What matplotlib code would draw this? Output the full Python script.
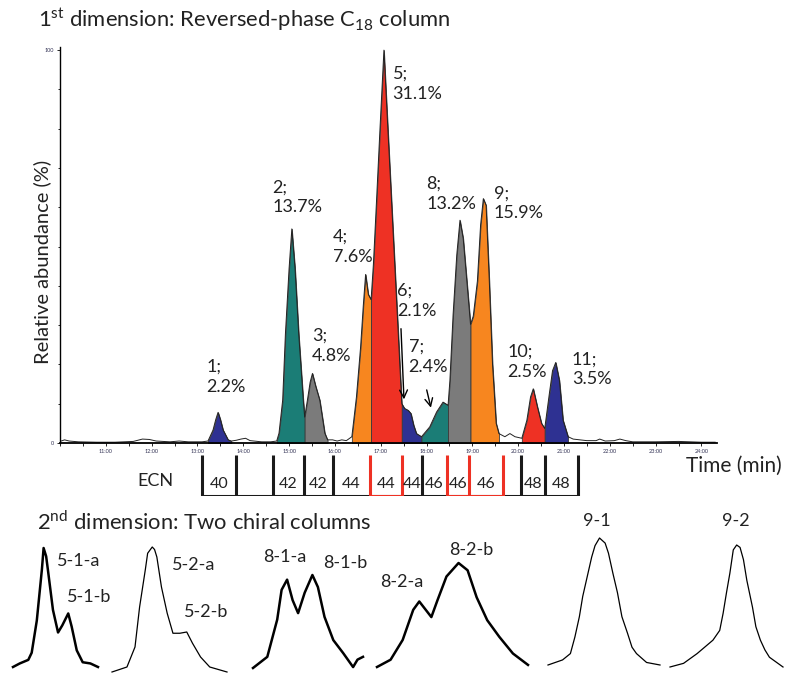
import matplotlib
matplotlib.use("Agg")
import matplotlib.pyplot as plt
import numpy as np

plt.rcParams['font.family'] = ['Lato', 'DejaVu Sans']
plt.rcParams['mathtext.fontset'] = 'custom'
plt.rcParams['mathtext.rm'] = 'Lato'

# 1st dimension trace: time (min) vs relative abundance (%)
time = [10.00, 10.10, 10.20, 10.40, 10.80, 11.20, 11.60, 11.80, 11.95, 12.10, 12.40, 12.60, 12.80,
        13.10, 13.23, 13.34, 13.40, 13.45, 13.50, 13.56, 13.67, 13.74, 13.85, 13.95, 14.05, 14.15,
        14.40, 14.60, 14.73, 14.78, 14.86, 14.92, 15.00, 15.06, 15.13, 15.21, 15.31, 15.34, 15.40,
        15.46, 15.51, 15.58, 15.67, 15.78, 15.84, 15.95, 16.05, 16.15, 16.25, 16.37, 16.47, 16.56,
        16.62, 16.67, 16.73, 16.79, 16.84, 16.91, 16.98, 17.07, 17.16, 17.27, 17.38, 17.46, 17.52,
        17.60, 17.66, 17.72, 17.78, 17.89, 18.07, 18.22, 18.36, 18.47, 18.51, 18.58, 18.66, 18.73,
        18.80, 18.88, 18.96, 19.02, 19.11, 19.18, 19.24, 19.30, 19.37, 19.44, 19.52, 19.58, 19.71,
        19.82, 19.93, 20.08, 20.19, 20.27, 20.33, 20.42, 20.51, 20.58, 20.68, 20.75, 20.82, 20.90,
        20.98, 21.09, 21.20, 21.50, 21.70, 21.78, 21.90, 22.10, 22.22, 22.35, 22.50, 23.00, 23.50,
        24.00, 24.30]
abundance = [0.4, 0.8, 0.5, 0.3, 0.2, 0.2, 0.4, 1.0, 0.9, 0.5, 0.3, 0.5, 0.3,
             0.3, 0.5, 3.3, 6.0, 7.8, 6.0, 3.3, 0.8, 0.5, 0.7, 1.0, 1.2, 0.6,
             0.3, 0.3, 0.5, 2.5, 10.9, 27.8, 44.4, 54.5, 44.4, 27.8, 10.9, 6.6, 10.9,
             15.5, 17.7, 14.5, 10.9, 2.5, 0.8, 0.8, 0.5, 0.8, 0.6, 1.6, 11.7, 24.3,
             35.0, 42.9, 37.8, 36.5, 45.4, 62.0, 79.0, 100.0, 79.0, 53.8, 28.5, 10.0, 8.8,
             8.3, 7.5, 4.5, 2.4, 1.6, 4.1, 7.9, 10.4, 9.6, 15.9, 32.7, 47.9, 56.7,
             52.1, 41.2, 30.2, 32.3, 41.2, 55.5, 62.2, 60.5, 41.2, 20.1, 5.0, 2.4, 1.6,
             2.4, 1.6, 1.2, 5.8, 11.7, 13.8, 9.2, 5.0, 3.7, 12.5, 18.4, 20.5, 15.9,
             5.8, 1.6, 1.0, 0.6, 0.6, 1.0, 0.5, 0.6, 1.0, 0.6, 0.3, 0.3, 0.4,
             0.2, 0.2]

# integrated peak regions (start, end, colour)
blue, teal, gray, orange, red = '#2E3192', '#1B7D76', '#7B7B7B', '#F7861F', '#EE3124'
seg_start = [13.23, 14.73, 15.34, 16.37, 16.79, 17.46, 17.89, 18.47, 18.96, 20.08, 20.58]
seg_end = [13.74, 15.34, 15.84, 16.79, 17.46, 17.89, 18.47, 18.96, 19.58, 20.58, 21.09]
seg_color = [blue, teal, gray, orange, red, blue, teal, gray, orange, red, blue]

peak_labels = ['1;\n2.2%', '2;\n13.7%', '3;\n4.8%', '4;\n7.6%', '5;\n31.1%', '6;\n2.1%',
               '7;\n2.4%', '8;\n13.2%', '9;\n15.9%', '10;\n2.5%', '11;\n3.5%']
label_t = [13.20, 14.63, 15.50, 15.96, 17.26, 17.35, 17.61, 17.99, 19.47, 19.76, 21.17]
label_a = [16.8, 62.5, 24.7, 49.9, 91.4, 36.2, 22.0, 63.4, 61.0, 20.6, 18.7]

# ECN cells
ecn_edges = [13.10, 13.84, 14.65, 15.32, 15.96, 16.76, 17.46, 17.90, 18.45, 18.93, 19.66, 20.07, 20.58, 21.31]
ecn_labels = ['40', '', '42', '42', '44', '44', '44', '46', '46', '46', '', '48', '48']
ecn_red = [False, False, False, False, False, True, False, False, True, True, False, False, False]

t = np.array(time)
a = np.array(abundance)

fig = plt.figure(figsize=(7.86, 6.73), dpi=100)
W, H = 786, 673
ax = fig.add_axes([60 / W, 1 - 443 / H, 657 / W, 396 / H])

for lo, hi, c in zip(seg_start, seg_end, seg_color):
    m = (t >= lo - 1e-6) & (t <= hi + 1e-6)
    ax.fill_between(t[m], 0, a[m], facecolor=c, edgecolor='#3a3a3a', lw=0.6)
ax.plot(t, a, color='#222222', lw=0.7)

for s, x, y in zip(peak_labels, label_t, label_a):
    ax.text(x, y, s, fontsize=13, ha='left', va='center', linespacing=1.3, color='#222222')

ax.annotate('', xy=(17.51, 10.4), xytext=(17.44, 29.8),
            arrowprops=dict(arrowstyle='->', lw=1.0, color='k', mutation_scale=14))
ax.annotate('', xy=(18.11, 8.3), xytext=(17.99, 14.2),
            arrowprops=dict(arrowstyle='->', lw=1.0, color='k', mutation_scale=14))

ax.set_xlim(10.0, 24.34)
ax.set_ylim(0, 100.8)
ax.spines['top'].set_visible(False)
ax.spines['right'].set_visible(False)
ax.spines['left'].set_linewidth(1.0)
ax.spines['bottom'].set_linewidth(1.3)
ax.set_xticks(np.arange(11, 25, 1))
ax.set_xticklabels(['%d:00' % h for h in range(11, 25)])
ax.set_xticks(np.arange(10, 24.5, 0.5), minor=True)
ax.set_yticks([0, 100])
ax.set_yticks(np.arange(0, 101, 10), minor=True)
ax.tick_params(axis='both', which='both', labelsize=4, length=2.5, width=0.6,
               pad=1.5, labelcolor='#333355')
ax.tick_params(axis='y', which='minor', length=1.5)

# ECN table below the time axis
tab = fig.add_axes([60 / W, 1 - 496 / H, 657 / W, 41 / H])
tab.set_xlim(ax.get_xlim())
tab.set_ylim(0, 1)
tab.axis('off')
tab.plot([ecn_edges[0], ecn_edges[-1]], [0, 0], color='#1a1a1a', lw=2.2, solid_capstyle='butt')
for i, lab in enumerate(ecn_labels):
    lo, hi = ecn_edges[i], ecn_edges[i + 1]
    if ecn_red[i]:
        tab.plot([lo, hi], [0, 0], color=red, lw=2.2, solid_capstyle='butt')
    tab.text((lo + hi) / 2, 0.3, lab, ha='center', va='center', fontsize=11.5, color='#222222')
for i, e in enumerate(ecn_edges):
    left_red = i > 0 and ecn_red[i - 1]
    right_red = i < len(ecn_red) and ecn_red[i]
    col = red if (left_red or right_red) else '#1a1a1a'
    tab.plot([e, e], [0, 1], color=col, lw=2.2, solid_capstyle='butt')

fig.text(137 / W, 1 - 481 / H, 'ECN', fontsize=13, va='center', ha='left', color='#222222')
fig.text(686 / W, 1 - 466 / H, 'Time (min)', fontsize=15, va='center', ha='left', color='#222222')
fig.text(42 / W, 1 - 262 / H, 'Relative abundance (%)', fontsize=14.5, rotation=90,
         va='center', ha='center', color='#222222')
fig.text(38 / W, 1 - 20 / H, r'1$^{\rm st}$ dimension: Reversed-phase C$_{\rm 18}$ column',
         fontsize=15.8, va='center', ha='left', color='#222222')
fig.text(37 / W, 1 - 522 / H, r'2$^{\rm nd}$ dimension: Two chiral columns',
         fontsize=15.8, va='center', ha='left', color='#222222')

# 2nd dimension traces (relative time, relative signal)
tr51_x = [0.00, 0.08, 0.18, 0.22, 0.28, 0.34, 0.36, 0.39, 0.41, 0.47, 0.53, 0.58, 0.65, 0.69, 0.75, 0.82, 0.91, 1.00]
tr51_y = [0.00, 0.03, 0.06, 0.12, 0.39, 0.82, 1.00, 0.93, 0.82, 0.48, 0.29, 0.35, 0.45, 0.34, 0.14, 0.04, 0.03, 0.00]
tr52_x = [0.00, 0.13, 0.20, 0.24, 0.29, 0.31, 0.35, 0.37, 0.39, 0.43, 0.48, 0.53, 0.59, 0.65, 0.70, 0.77, 0.85, 1.00]
tr52_y = [0.00, 0.04, 0.20, 0.52, 0.82, 0.95, 1.00, 0.98, 0.92, 0.68, 0.47, 0.31, 0.31, 0.32, 0.23, 0.12, 0.04, 0.00]
tr81_x = [0.00, 0.13, 0.22, 0.26, 0.31, 0.36, 0.41, 0.47, 0.54, 0.59, 0.65, 0.73, 0.82, 0.91, 0.95, 1.00]
tr81_y = [0.00, 0.12, 0.52, 0.84, 0.95, 0.73, 0.59, 0.81, 1.00, 0.87, 0.55, 0.30, 0.16, 0.01, 0.09, 0.12]
tr82_x = [0.00, 0.09, 0.17, 0.24, 0.28, 0.36, 0.40, 0.46, 0.54, 0.60, 0.66, 0.73, 0.81, 0.90, 1.00]
tr82_y = [0.00, 0.07, 0.26, 0.55, 0.63, 0.48, 0.64, 0.87, 1.00, 0.93, 0.67, 0.45, 0.29, 0.13, 0.02]
tr91_x = [0.00, 0.13, 0.20, 0.24, 0.28, 0.31, 0.39, 0.42, 0.46, 0.51, 0.54, 0.58, 0.62, 0.66, 0.71, 0.75, 0.79, 0.88, 1.00]
tr91_y = [0.00, 0.04, 0.09, 0.22, 0.38, 0.54, 0.85, 0.94, 1.00, 0.96, 0.88, 0.72, 0.57, 0.38, 0.25, 0.14, 0.09, 0.02, 0.00]
tr92_x = [0.00, 0.12, 0.24, 0.38, 0.44, 0.47, 0.50, 0.53, 0.56, 0.59, 0.62, 0.65, 0.68, 0.73, 0.76, 0.80, 0.84, 0.88, 1.00]
tr92_y = [0.00, 0.03, 0.11, 0.22, 0.30, 0.44, 0.61, 0.77, 0.96, 1.00, 0.98, 0.88, 0.71, 0.49, 0.33, 0.22, 0.14, 0.08, 0.00]

traces = [(tr51_x, tr51_y, (13, 98, 548, 667), 1.8),
          (tr52_x, tr52_y, (112, 227, 547, 672), 0.9),
          (tr81_x, tr81_y, (253, 363, 575, 668), 1.8),
          (tr82_x, tr82_y, (377, 528, 563, 667), 1.8),
          (tr91_x, tr91_y, (548, 660, 538, 665), 0.9),
          (tr92_x, tr92_y, (670, 783, 545, 667), 0.9)]
for xs, ys, (x0, x1, ytop, ybot), lw in traces:
    sub = fig.add_axes([x0 / W, 1 - ybot / H, (x1 - x0) / W, (ybot - ytop) / H])
    sub.plot(xs, ys, color='k', lw=lw, solid_joinstyle='round')
    sub.set_xlim(0, 1)
    sub.set_ylim(0, 1)
    sub.axis('off')
    for l in sub.lines:
        l.set_clip_on(False)

sub_labels = ['5-1-a', '5-1-b', '5-2-a', '5-2-b', '8-1-a', '8-1-b', '8-2-a', '8-2-b', '9-1', '9-2']
sub_lx = [57, 67, 172, 184, 263, 323, 380, 449, 583, 722]
sub_ly = [561, 597, 565, 612, 557, 563, 582, 550, 521, 521]
for s, x, y in zip(sub_labels, sub_lx, sub_ly):
    fig.text(x / W, 1 - y / H, s, fontsize=13, va='center', ha='left', color='#222222')

fig.savefig('out.png', dpi=100)
